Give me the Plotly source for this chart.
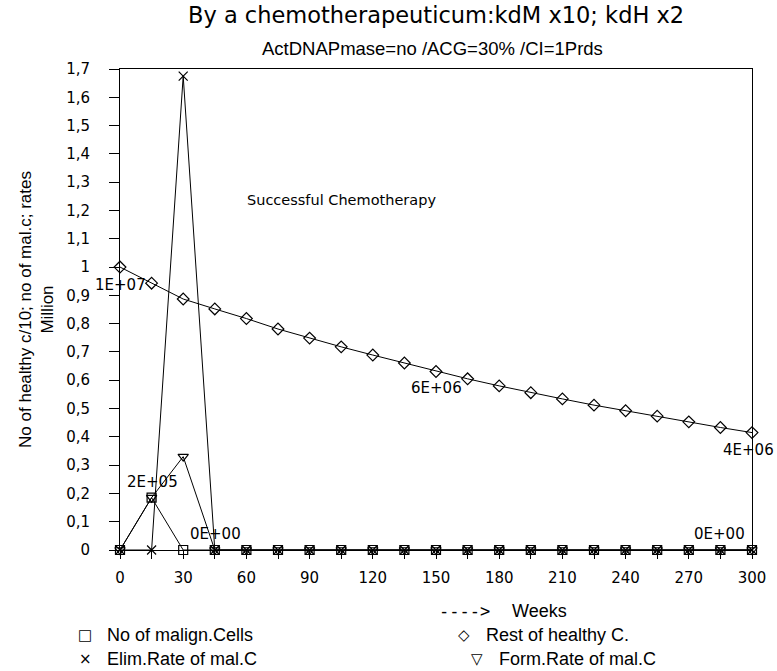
import plotly.graph_objects as go

weeks = [0, 15, 30, 45, 60, 75, 90, 105, 120, 135, 150, 165, 180, 195, 210, 225, 240, 255, 270, 285, 300]
malign_cells = [0, 0.185, 0, 0, 0, 0, 0, 0, 0, 0, 0, 0, 0, 0, 0, 0, 0, 0, 0, 0, 0]
healthy_cells = [1.0, 0.943, 0.887, 0.852, 0.818, 0.781, 0.749, 0.718, 0.689, 0.661, 0.631, 0.605, 0.58, 0.556, 0.534, 0.512, 0.492, 0.473, 0.453, 0.433, 0.415]
elim_rate = [0, 0, 1.675, 0, 0, 0, 0, 0, 0, 0, 0, 0, 0, 0, 0, 0, 0, 0, 0, 0, 0]
form_rate = [0, 0.185, 0.33, 0, 0, 0, 0, 0, 0, 0, 0, 0, 0, 0, 0, 0, 0, 0, 0, 0, 0]

# value labels: (week, value, text, anchor)
labels = [
    (0, 0.936, "1E+07", "center"),
    (150, 0.572, "6E+06", "center"),
    (300, 0.353, "4E+06", "right"),
    (15.2, 0.24, "2E+05", "center"),
    (45.1, 0.057, "0E+00", "center"),
    (284.8, 0.057, "0E+00", "center"),
]
note = (105, 1.237, "Successful Chemotherapy")

# legend entries: symbol, text, symbol-centre px, text-left px, row y px
legend_items = [
    ("□", "No of malign.Cells", 85, 105, 635),
    ("◇", "Rest of healthy C.", 464, 484, 635),
    ("×", "Elim.Rate of mal.C", 85, 105, 659),
    ("▽", "Form.Rate of mal.C", 477, 497, 659),
]

PX0, PW, PY0, PTOP = 120, 632, 550, 69  # plot area in page pixels


def px(xp):
    return (xp - PX0) / PW


fig = go.Figure()
line = dict(color="black", width=1)
series = [
    ("No of malign.Cells", malign_cells, "square-open"),
    ("Rest of healthy C.", healthy_cells, "diamond-open"),
    ("Elim.Rate of mal.C", elim_rate, "x-thin-open"),
    ("Form.Rate of mal.C", form_rate, "triangle-down-open"),
]
for name, vals, sym in series:
    fig.add_trace(go.Scatter(
        x=weeks, y=vals, name=name, mode="lines+markers",
        line=line,
        marker=dict(symbol=sym, size=9, color="black", line=dict(color="black", width=1.2)),
        cliponaxis=False, showlegend=False,
    ))

tick_font = dict(family="DejaVu Sans", size=15, color="black")
fig.update_xaxes(
    range=[0, 300], tickvals=list(range(0, 301, 30)), automargin=False,
    ticks="outside", ticklen=8, tickcolor="black", ticklabelstandoff=6,
    minor=dict(tickvals=weeks, ticks="outside", ticklen=8, tickcolor="black"),
    showline=True, linecolor="black", linewidth=1, mirror=True,
    showgrid=False, zeroline=False, tickfont=tick_font,
)
fig.update_yaxes(
    range=[0, 1.7], dtick=0.1, tick0=0, automargin=False,
    ticks="outside", ticklen=10, tickcolor="black", ticklabelstandoff=16,
    showline=True, linecolor="black", linewidth=1, mirror=True,
    showgrid=False, zeroline=False, tickfont=tick_font,
    title=dict(text="No of healthy c/10; no of mal.c; rates<br>Million",
               font=dict(family="Liberation Sans", size=17, color="black"), standoff=8),
)

ann_font = dict(family="DejaVu Sans", size=15, color="black")
for x, y, t, anc in labels:
    fig.add_annotation(x=x, y=y, text=t, showarrow=False, font=ann_font,
                       xanchor=anc, xshift=24 if anc == "right" else 0, yanchor="middle")
fig.add_annotation(x=note[0], y=note[1], text=note[2], showarrow=False,
                   xanchor="center", yanchor="middle",
                   font=dict(family="DejaVu Sans", size=14.5, color="black"))

fig.add_annotation(xref="paper", yref="paper", x=px(436), y=1.0, yshift=PTOP - 15,
                   xanchor="center", yanchor="middle",
                   text="By a chemotherapeuticum:kdM x10; kdH x2", showarrow=False,
                   font=dict(family="DejaVu Sans", size=22.5, color="black"))
fig.add_annotation(xref="paper", yref="paper", x=px(432), y=1.0, yshift=PTOP - 48,
                   xanchor="center", yanchor="middle",
                   text="ActDNAPmase=no /ACG=30% /CI=1Prds", showarrow=False,
                   font=dict(family="Liberation Sans", size=18.5, color="black"))

fig.add_annotation(xref="paper", yref="paper", x=px(492), y=0, yshift=-(611 - PY0),
                   xanchor="right", yanchor="middle", text="---->", showarrow=False,
                   font=dict(family="DejaVu Sans Mono", size=17, color="black"))
fig.add_annotation(xref="paper", yref="paper", x=px(510), y=0, yshift=-(611 - PY0),
                   xanchor="left", yanchor="middle", text="Weeks", showarrow=False,
                   font=dict(family="Liberation Sans", size=18, color="black"))
for sym, txt, sx, tx, ry in legend_items:
    fig.add_annotation(xref="paper", yref="paper", x=px(sx), y=0, yshift=-(ry - PY0),
                       xanchor="center", yanchor="middle", text=sym, showarrow=False,
                       font=dict(family="DejaVu Sans", size=15, color="black"))
    fig.add_annotation(xref="paper", yref="paper", x=px(tx), y=0, yshift=-(ry - PY0),
                       xanchor="left", yanchor="middle", text=txt, showarrow=False,
                       font=dict(family="Liberation Sans", size=18, color="black"))

fig.update_layout(
    width=777, height=671,
    margin=dict(l=120, r=25, t=69, b=121),
    paper_bgcolor="white", plot_bgcolor="white",
    separators=",.",
)
fig.write_html(
    "out.html",
    config={"displayModeBar": False},
    post_script="document.body.style.margin='0';document.body.style.overflow='hidden';",
)
